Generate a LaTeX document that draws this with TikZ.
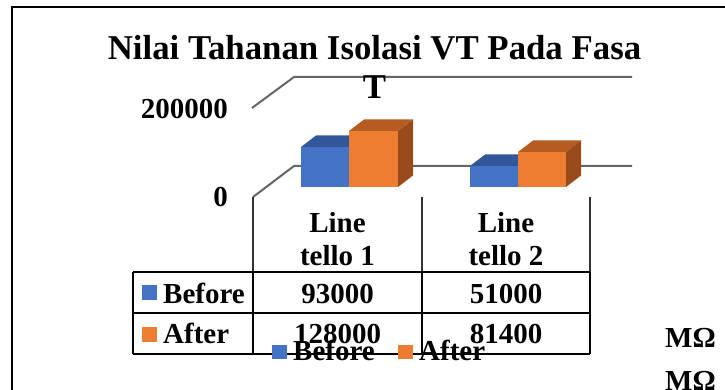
\documentclass[tikz,border=0pt]{standalone}
\usepackage{fontspec}
\setmainfont{Liberation Serif}
\definecolor{barblue}{HTML}{4472C4}
\definecolor{barbluetop}{HTML}{32569A}
\definecolor{barorange}{HTML}{ED7D31}
\definecolor{barorangetop}{HTML}{B65B22}
\definecolor{barorangeside}{HTML}{9A4B1C}
\definecolor{gridgray}{HTML}{666666}
\begin{document}
\begin{tikzpicture}[x=1pt,y=-1pt,
  lbl/.style={inner sep=0pt,anchor=base,font=\bfseries\fontsize{29}{33}\selectfont},
  ttl/.style={inner sep=0pt,align=center,font=\bfseries\fontsize{34.8}{39}\selectfont},
  grid/.style={draw=gridgray,line width=2pt},
  tbl/.style={draw=black,line width=2pt},
  hdr/.style={draw=black!80,line width=1.5pt}]
\useasboundingbox (0,0) rectangle (725,390);
% chart frame
\draw[line width=2pt] (12,390) -- (12,7) -- (725,7);
% gridlines (back wall and floor edge)
\draw[grid] (252,108) -- (294,77) -- (632,77);
\draw[grid] (253,197) -- (294,166) -- (632,166);
% title (base anchor sits on the last line)
\node[ttl,anchor=base] (title) at (374.5,99) {Nilai Tahanan Isolasi VT Pada Fasa\\T};
% axis labels
\node[lbl,anchor=base east] (y200) at (228,119) {200000};
\node[lbl,anchor=base east] (y0) at (228,207) {0};
% bars: Line tello 1
\fill[barblue] (301,147) rectangle (349,187);
\fill[barbluetop] (301,147) -- (349,147) -- (364,135.5) -- (316,135.5) -- cycle;
\fill[barorange] (349,131) rectangle (398,187);
\fill[barorangetop] (349,131) -- (398,131) -- (413,119.5) -- (364,119.5) -- cycle;
\fill[barorangeside] (398,131) -- (413,119.5) -- (413,175.5) -- (398,187) -- cycle;
% bars: Line tello 2
\fill[barblue] (470,166) rectangle (518,187);
\fill[barbluetop] (470,166) -- (518,166) -- (533,154.5) -- (485,154.5) -- cycle;
\fill[barorange] (518,152) rectangle (566,187);
\fill[barorangetop] (518,152) -- (566,152) -- (581,140.5) -- (533,140.5) -- cycle;
\fill[barorangeside] (566,152) -- (581,140.5) -- (581,175.5) -- (566,187) -- cycle;
% category dividers of the header
\draw[hdr] (253,197) -- (253,272);
\draw[hdr] (422,197) -- (422,272);
\draw[hdr] (590,197) -- (590,272);
% data table
\draw[tbl] (133,272) -- (590,272);
\draw[tbl] (133,313) -- (590,313);
\draw[tbl] (133,354) -- (590,354);
\draw[tbl] (133,272) -- (133,354);
\draw[tbl] (253,272) -- (253,354);
\draw[tbl] (422,272) -- (422,354);
\draw[tbl] (590,272) -- (590,354);
% header texts
\node[lbl,align=center] (c1) at (337.5,265) {Line\\tello 1};
\node[lbl,align=center] (c2) at (506,265) {Line\\tello 2};
% row keys and labels
\fill[barblue] (142,285) rectangle (157,300);
\fill[barorange] (142,327) rectangle (157,342);
\node[lbl,anchor=base west] (rb) at (163,303) {Before};
\node[lbl,anchor=base west] (ra) at (163,343) {After};
% values
\node[lbl] (v11) at (337.5,303) {93000};
\node[lbl] (v12) at (506,303) {51000};
\node[lbl] (v21) at (337.5,343) {128000};
\node[lbl] (v22) at (506,343) {81400};
% legend
\fill[barblue] (272,345) rectangle (287,359);
\node[lbl,anchor=base west] (lb) at (293,360) {Before};
\fill[barorange] (398,345) rectangle (413,359);
\node[lbl,anchor=base west] (la) at (419,360) {After};
% units
\node[lbl,anchor=base west] (u1) at (665,347) {MΩ};
\node[lbl,anchor=base west] (u2) at (665,390) {MΩ};
\end{tikzpicture}
\end{document}
